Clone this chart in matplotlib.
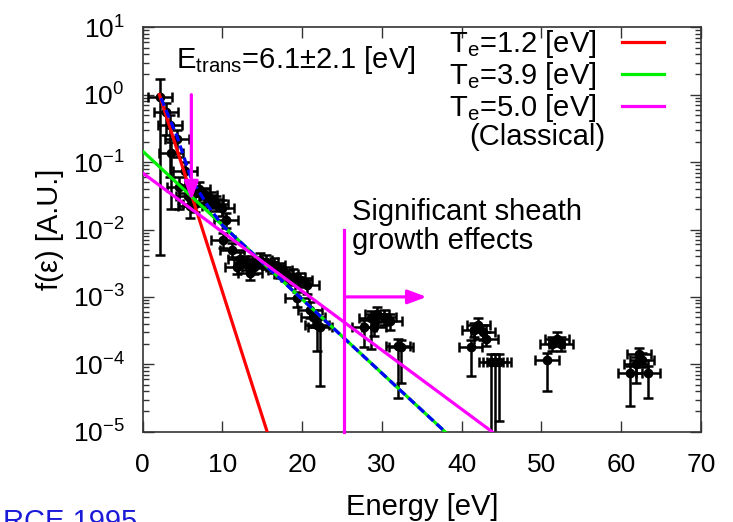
import matplotlib
matplotlib.use('Agg')
import numpy as np
import matplotlib.pyplot as plt
from matplotlib.ticker import LogLocator, NullFormatter, LogFormatterMathtext, MultipleLocator

plt.rcParams['font.family'] = ['Liberation Sans', 'DejaVu Sans']
plt.rcParams['mathtext.fontset'] = 'custom'
plt.rcParams['mathtext.rm'] = 'Liberation Sans'
plt.rcParams['mathtext.it'] = 'Liberation Sans:italic'
plt.rcParams['mathtext.bf'] = 'Liberation Sans:bold'
plt.rcParams['mathtext.default'] = 'regular'

# ---------------- data ----------------
energy = [2.2, 2.9, 3.4, 4.3, 3.6, 5.3, 4.5, 5.7,
          6.1, 7.0, 7.8, 8.6, 9.2, 9.9, 6.6, 5.9, 10.5,
          10.1, 11.2, 12.2, 13.0, 13.9, 11.8, 13.4, 14.7, 15.5, 16.4,
          17.2, 18.0, 18.9, 19.7, 20.6, 19.3, 21.0, 21.4, 21.8, 22.2,
          27.8, 28.6, 29.4, 30.2, 31.0, 29.0, 32.0, 32.4,
          41.1, 41.5, 42.1, 42.7, 43.1, 43.7, 44.2, 44.7,
          50.7, 51.3, 51.9, 52.5,
          61.1, 61.8, 62.2, 62.6, 63.4]
f_val = [0.93, 0.56, 0.36, 0.22, 0.135, 0.075, 0.042, 0.031,
         0.035, 0.040, 0.032, 0.028, 0.024, 0.021, 0.024, 0.022, 0.0138,
         0.0069, 0.0050, 0.0037, 0.0032, 0.0028, 0.0028, 0.0023, 0.0035, 0.0033, 0.0030,
         0.0025, 0.0022, 0.0020, 0.0018, 0.0015, 0.00095, 0.00065, 0.00051, 0.00038, 0.00036,
         3.6e-4, 4.8e-4, 5.5e-4, 5.0e-4, 4.4e-4, 3.6e-4, 1.9e-4, 1.8e-4,
         1.8e-4, 3.2e-4, 3.8e-4, 3.0e-4, 2.4e-4, 1.1e-4, 1.1e-4, 1.1e-4,
         1.15e-4, 2.0e-4, 2.4e-4, 2.0e-4,
         7.4e-5, 1.0e-4, 1.4e-4, 1.15e-4, 7.4e-5]
f_lo = [0.0042, 0.25, 0.06, 0.12, 0.02, 0.045, 0.02, 0.022,
        0.027, 0.031, 0.025, 0.022, 0.019, 0.016, 0.018, 0.015, 0.0105,
        0.0053, 0.0039, 0.0029, 0.0025, 0.0022, 0.0022, 0.0018, 0.0027, 0.0026, 0.0023,
        0.0019, 0.0017, 0.0015, 0.0014, 0.0011, 0.0007, 0.00048, 0.00036, 0.00016, 0.000047,
        1.8e-4, 1.7e-4, 4.2e-4, 3.8e-4, 3.2e-4, 2.6e-4, 3.2e-5, 5.2e-5,
        6.6e-5, 2.5e-4, 3.0e-4, 2.3e-4, 1.9e-4, 1e-6, 1e-6, 1.45e-5,
        4.0e-5, 1.55e-4, 1.9e-4, 1.55e-4,
        2.4e-5, 5.3e-5, 1.1e-4, 9.0e-5, 3.2e-5]
f_hi = [1.7, 0.75, 0.5, 0.3, 0.2, 0.1, 0.06, 0.04,
        0.045, 0.051, 0.041, 0.036, 0.031, 0.027, 0.031, 0.029, 0.0178,
        0.0088, 0.0064, 0.0047, 0.0041, 0.0036, 0.0036, 0.0029, 0.0045, 0.0042, 0.0038,
        0.0032, 0.0028, 0.0026, 0.0023, 0.0019, 0.0012, 0.00083, 0.00065, 0.00049, 0.00047,
        4.6e-4, 6.2e-4, 7.0e-4, 6.4e-4, 5.6e-4, 4.6e-4, 2.4e-4, 2.3e-4,
        2.3e-4, 4.1e-4, 4.8e-4, 3.8e-4, 3.0e-4, 1.4e-4, 1.4e-4, 1.4e-4,
        1.45e-4, 2.55e-4, 3.0e-4, 2.55e-4,
        9.4e-5, 1.27e-4, 1.75e-4, 1.45e-4, 9.4e-5]
energy_err = 1.5

# fitted lines (end points)
fit_red_x, fit_red_y = [2.1, 15.6], [1.0, 1e-5]          # Te = 1.2 eV
fit_green_x, fit_green_y = [0.0, 37.9], [0.145, 1e-5]    # Te = 3.9 eV
fit_mag_x, fit_mag_y = [0.0, 43.8], [0.069, 1e-5]        # Te = 5.0 eV
fit_blue_x = [2.3, 4.3, 6.1, 8.0, 10.0, 37.9]            # two-temperature fit
fit_blue_y = [0.89, 0.24, 0.056, 0.024, 0.0115, 1e-5]

legend_labels = [r'T$_{\rm e}$=1.2 [eV]', r'T$_{\rm e}$=3.9 [eV]', r'T$_{\rm e}$=5.0 [eV]']

E_trans = 6.1
E_trans_top, E_trans_tip = 1.0, 0.027
E_sheath = 25.3
sheath_top = 0.0098
sheath_arrow_y, sheath_arrow_end = 1e-3, 35.6

# ---------------- figure ----------------
W, H = 733, 522
fig = plt.figure(figsize=(W / 100, H / 100), dpi=100)
ax = fig.add_axes([142.7 / W, 1 - 431.7 / H, (701 - 142.7) / W, (431.7 - 27.3) / H])

f_arr = np.array(f_val)
yerr = [f_arr - np.array(f_lo), np.array(f_hi) - f_arr]
ax.errorbar(energy, f_val, xerr=energy_err, yerr=yerr, fmt='o', color='black',
            ms=6, elinewidth=1.8, capsize=3.5, capthick=1.8, zorder=2)

MAG = '#ff00ff'
l1, = ax.plot(fit_red_x, fit_red_y, color='#ff0000', lw=2.3, zorder=3)
l2, = ax.plot(fit_green_x, fit_green_y, color='#00ee00', lw=2.3, zorder=3)
l3, = ax.plot(fit_mag_x, fit_mag_y, color=MAG, lw=2.3, zorder=4)
ax.plot(fit_blue_x, fit_blue_y, color='#0000ff', lw=2.3, dashes=[2.6, 1.4], zorder=3.5)

# E_trans arrow
ax.annotate('', xy=(E_trans, E_trans_tip), xytext=(E_trans, E_trans_top),
            arrowprops=dict(arrowstyle='-|>,head_length=0.8,head_width=0.3', color=MAG,
                            lw=2.3, mutation_scale=14, shrinkA=0, shrinkB=0), zorder=5)
# sheath marker
ax.plot([E_sheath, E_sheath], [sheath_top, 1e-5], color=MAG, lw=2.3, zorder=4, clip_on=False)
ax.annotate('', xy=(sheath_arrow_end, sheath_arrow_y), xytext=(E_sheath, sheath_arrow_y),
            arrowprops=dict(arrowstyle='-|>,head_length=0.8,head_width=0.3', color=MAG,
                            lw=2.3, mutation_scale=14, shrinkA=0, shrinkB=0), zorder=5)

ax.set_xlim(0, 70)
ax.set_yscale('log')
ax.set_ylim(1e-5, 10)
ax.xaxis.set_major_locator(MultipleLocator(10))
ax.yaxis.set_major_locator(LogLocator(base=10, numticks=10))
ax.yaxis.set_minor_locator(LogLocator(base=10, subs=np.arange(2, 10), numticks=20))
ax.yaxis.set_minor_formatter(NullFormatter())
ax.yaxis.set_major_formatter(LogFormatterMathtext())
ax.tick_params(which='both', direction='in', top=True, right=True, width=1.0, color='#333333')
ax.tick_params(which='major', length=8, labelsize=19)
ax.tick_params(axis='x', which='major', pad=15)
ax.tick_params(axis='y', which='major', pad=13)
ax.tick_params(which='minor', length=4)
for s in ax.spines.values():
    s.set_linewidth(1.2)
    s.set_color('#333333')

ax.set_xlabel('Energy [eV]', fontsize=21, labelpad=12)
ax.set_ylabel('f(ε) [A.U.]', fontsize=21, labelpad=6)

ax.text(4.2, 2.46, 'E$_{\\rm trans}$=6.1±2.1 [eV]', fontsize=21, ha='left', va='baseline')
ax.text(26.2, 0.0294, 'Significant sheath\ngrowth effects', fontsize=21, ha='left', va='top',
        linespacing=1.05)
ax.text(40.9, 0.235, '(Classical)', fontsize=21, ha='left', va='center')

leg = ax.legend([l1, l2, l3], legend_labels, loc='upper right', frameon=False,
                markerfirst=False, fontsize=21, handlelength=1.45, handletextpad=0.85,
                labelspacing=0.0, borderpad=0, borderaxespad=0,
                bbox_to_anchor=((664 - 142.7) / (701 - 142.7), (431.7 - 28) / 404.4))

# cropped footer text from the slide
fig.text(137 / W, 1 - 530 / H, 'RCE 1995', color='#1a1ad8', fontsize=21, ha='right', va='baseline')

fig.savefig('out.png', dpi=100)
